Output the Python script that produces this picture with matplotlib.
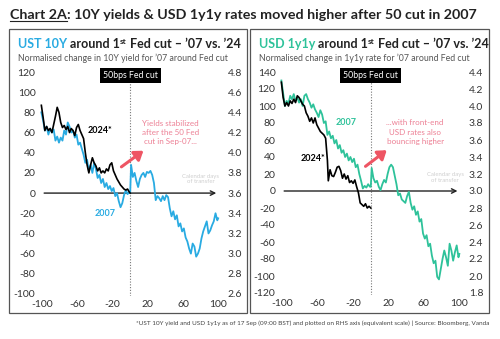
import numpy as np
import matplotlib.pyplot as plt
from matplotlib.patches import Rectangle
from matplotlib.lines import Line2D

plt.rcParams['font.family'] = ['Lato', 'DejaVu Sans']
plt.rcParams['axes.unicode_minus'] = False

CYAN = '#29abe2'
GREEN = '#2ec29a'
PINK = '#e8607a'

# ---- UST 10Y, normalised change (bp) around first cut, 2007
days_10y_07 = [-101, -99, -97, -95, -93, -91, -89, -87, -85, -83, -81, -79, -77, -75, -73, -71,
               -69, -67, -65, -63, -61, -59, -57, -55, -53, -51, -49, -47, -45, -43, -41, -39,
               -37, -35, -33, -31, -29, -27, -25, -23, -21, -19, -17, -15, -13, -11, -9, -7,
               -5, -3, -1, 0, 1, 3, 5, 7, 9, 11, 13, 15, 17, 19, 21, 23, 25, 27, 29, 31, 33,
               35, 37, 39, 41, 43, 45, 47, 49, 51, 53, 55, 57, 59, 61, 63, 65, 67, 69, 71, 73,
               75, 77, 79, 81, 83, 85, 87, 89, 91, 93, 95, 97, 99, 100]
ust10y_07 = [80, 72, 62, 66, 58, 64, 60, 63, 52, 56, 50, 55, 52, 62, 58, 70,
             66, 60, 62, 55, 58, 48, 50, 44, 38, 30, 33, 22, 28, 20, 30, 24,
             15, 18, 10, 14, 6, 10, 4, 7, 2, 5, -3, 0, -8, -14, -10, -2,
             3, -1, 1, 0, 28, 16, 20, 12, 6, 14, 18, 20, 16, 21, 20, 22, 18, 10, -7, -3, -5,
             -8, -3, -7, -2, -4, -15, -23, -18, -26, -22, -33, -30, -38, -35, -44, -48, -55, -60, -50, -53,
             -63, -60, -55, -45, -38, -33, -28, -40, -37, -32, -28, -20, -27, -25]

# ---- UST 10Y level (%) in 2024, RHS
days_10y_24 = [-101, -99, -97, -95, -93, -91, -89, -87, -85, -83, -81, -79, -77, -75, -73, -71,
               -69, -67, -65, -63, -61, -59, -57, -55, -53, -51, -49, -47, -45, -43, -41, -39,
               -37, -35, -33, -31, -29, -27, -25, -23, -21, -19, -17, -15, -13, -11, -9, -7,
               -5, -3, -1, 0]
ust10y_24 = [4.47, 4.35, 4.22, 4.26, 4.22, 4.24, 4.20, 4.28, 4.36, 4.45, 4.40, 4.30, 4.25, 4.27, 4.23, 4.26,
             4.20, 4.24, 4.22, 4.17, 4.25, 4.28, 4.22, 4.18, 4.14, 4.00, 3.88, 3.80, 3.88, 3.95, 3.90, 3.87,
             3.82, 3.85, 3.80, 3.82, 3.80, 3.84, 3.82, 3.88, 3.90, 3.82, 3.78, 3.74, 3.71, 3.68, 3.66, 3.64,
             3.63, 3.64, 3.61, 3.60]

# ---- USD 1y1y, normalised change (bp) around first cut, 2007
days_1y1y_07 = days_10y_07
usd1y1y_07 = [130, 115, 100, 106, 103, 112, 108, 114, 106, 110, 104, 108, 100, 112, 114, 108,
              104, 98, 102, 96, 92, 87, 95, 90, 80, 82, 66, 70, 62, 65, 56, 60,
              50, 54, 45, 48, 40, 44, 36, 40, 34, 38, 28, 31, 20, 12, 3, 6,
              4, 8, 5, 5, 27, 15, 10, 12, 5, 1, 8, 13, 10, 20, 28, 31, 28, 18, 8, -5, -3,
              -10, -12, -14, -6, -1, -14, -22, -18, -28, -24, -36, -33, -50, -56, -52, -65, -62, -76, -85, -82,
              -101, -104, -92, -80, -70, -78, -88, -62, -70, -82, -72, -64, -78, -74]

# ---- USD 1y1y level (%) in 2024, RHS
days_1y1y_24 = [-101, -99, -97, -95, -93, -91, -89, -87, -85, -83, -81, -79, -77, -75, -73, -71,
                -69, -67, -65, -63, -61, -59, -57, -55, -53, -51, -49, -48, -46, -44, -42, -40,
                -38, -36, -34, -32, -30, -28, -26, -24, -22, -20, -18, -16, -14, -12, -10, -8,
                -6, -4, -2, 0]
usd1y1y_24 = [4.28, 4.10, 4.00, 4.04, 4.00, 4.06, 4.03, 4.08, 4.04, 4.12, 4.10, 4.06, 4.02, 4.00, 3.92, 3.88,
              3.82, 3.86, 3.80, 3.86, 3.78, 3.74, 3.70, 3.68, 3.66, 3.62, 3.36, 3.12, 3.25, 3.18, 3.17, 3.22,
              3.28, 3.29, 3.24, 3.15, 3.20, 3.14, 3.18, 3.10, 3.12, 3.09, 3.13, 3.05, 2.98, 2.86, 2.84, 2.82,
              2.85, 2.80, 2.82, 2.80]

x_ticks = [-100, -60, -20, 20, 60, 100]

fig = plt.figure(figsize=(5.0, 3.39), dpi=100)
W, H = 500, 339


def px_axes(x0, y0, x1, y1):
    return fig.add_axes([x0 / W, 1 - y1 / H, (x1 - x0) / W, (y1 - y0) / H])


renderer = fig.canvas.get_renderer()


def rich(x, y, parts, **kw):
    # draw text pieces one after another on the same baseline
    xf = x / W
    for txt, col, extra in parts:
        opts = dict(kw)
        opts.update(extra)
        dy = opts.pop('dy', 0)
        t = fig.text(xf, 1 - (y + dy) / H, txt, color=col, va='baseline', **opts)
        xf += t.get_window_extent(renderer).width / W
    return xf


# headline
t = fig.text(10 / W, 1 - 19 / H, 'Chart 2A', fontsize=10.3, fontweight='bold', color='#222222', va='baseline')
bb = t.get_window_extent(renderer)
fig.add_artist(Line2D([bb.x0 / W, bb.x1 / W], [1 - 21 / H] * 2, color='#222222', lw=0.8))
fig.text(bb.x1 / W, 1 - 19 / H, ': 10Y yields & USD 1y1y rates moved higher after 50 cut in 2007',
         fontsize=10.3, fontweight='bold', color='#222222', va='baseline')

# panel frames
for x0, x1 in [(9, 247), (250, 489)]:
    fig.add_artist(Rectangle((x0 / W, 1 - 313 / H), (x1 - x0) / W, (313 - 29) / H,
                             transform=fig.transFigure, fill=False, ec='#555555', lw=0.9))

panels = [
    dict(name='UST 10Y', col=CYAN, x0=18, sub="Normalised change in 10Y yield for '07 around Fed cut",
         box=(39.6, 70, 220.8, 296), ylim=(-102, 122), yt=np.arange(-100, 121, 20), base=3.6,
         rt=np.arange(2.6, 4.81, 0.2), d07=days_10y_07, v07=ust10y_07, d24=days_10y_24, v24=ust10y_24,
         lab07=(-29, -20), lab24=(-34, 62),
         note="Yields stabilized\nafter the 50 Fed\ncut in Sep-07...", note_xy=(46, 60),
         arr=((-10, 26), (15, 42)), faint_xy=(80, 14)),
    dict(name='USD 1y1y', col=GREEN, x0=259, sub="Normalised change in 1y1y rate for '07 around Fed cut",
         box=(279.6, 70.3, 462, 294.7), ylim=(-122, 142), yt=np.arange(-120, 141, 20), base=3.0,
         rt=np.arange(1.8, 4.41, 0.2), d07=days_1y1y_07, v07=usd1y1y_07, d24=days_1y1y_24, v24=usd1y1y_24,
         lab07=(-28, 81), lab24=(-65, 38),
         note="...with front-end\nUSD rates also\nbouncing higher", note_xy=(50, 69),
         arr=((-6, 29), (18, 48)), faint_xy=(84, 16)),
]

for p in panels:
    # panel heading with coloured instrument name and superscript
    rich(p['x0'], 48, [(p['name'], p['col'], {}),
                       (' around 1', '#222222', {}),
                       ('st', '#222222', dict(fontsize=6, dy=-3.5)),
                       (" Fed cut \u2013 \u201907 vs. \u201924", '#222222', {})],
         fontsize=9, fontweight='bold')
    fig.text(p['x0'] / W, 1 - 61 / H, p['sub'].replace("'", '\u2019'), fontsize=6.3, color='#555555',
             va='baseline')

    ax = px_axes(*p['box'])
    ax.set_xlim(-103, 103)
    ax.set_ylim(*p['ylim'])
    ax.set_xticks(x_ticks)
    ax.set_yticks(p['yt'])
    ax.tick_params(length=0, labelsize=7.5, labelcolor='#333333', pad=3)
    for s in ax.spines.values():
        s.set_visible(False)
    ax.patch.set_alpha(0)

    ax.plot(p['d07'], p['v07'], color=p['col'], lw=1.3, zorder=3)

    ax2 = ax.twinx()
    ax2.set_ylim(p['base'] + p['ylim'][0] / 100, p['base'] + p['ylim'][1] / 100)
    ax2.set_yticks(p['rt'])
    ax2.set_yticklabels(['%.1f' % v for v in p['rt']])
    ax2.tick_params(length=0, labelsize=7.5, labelcolor='#333333', pad=5)
    for s in ax2.spines.values():
        s.set_visible(False)
    ax2.plot(p['d24'], p['v24'], color='black', lw=1.2, zorder=4)

    # zero axis with arrow and the cut marker
    ax.annotate('', xy=(101, 0), xytext=(-101, 0),
                arrowprops=dict(arrowstyle='->', color='#222222', lw=1.0, mutation_scale=8), zorder=2)
    ax.axvline(0, color='#777777', lw=0.8, ls=(0, (1, 1.5)), ymax=0.95, zorder=1)
    ax.text(0, p['ylim'][1] - 0.025 * (p['ylim'][1] - p['ylim'][0]), '50bps Fed cut', ha='center', va='center',
            fontsize=6.3, color='white', bbox=dict(boxstyle='square,pad=0.35', fc='black', ec='none'), zorder=6)

    ax.text(*p['lab07'], '2007', color=p['col'], fontsize=6.5, fontweight='bold', ha='center', va='center')
    ax.text(*p['lab24'], '2024*', color='black', fontsize=6.5, fontweight='bold', ha='center', va='center')
    ax.text(*p['note_xy'], p['note'], color=PINK, fontsize=5.8, ha='center', va='center', linespacing=1.4,
            alpha=0.8)
    ax.annotate('', xy=p['arr'][1], xytext=p['arr'][0],
                arrowprops=dict(arrowstyle='-|>,head_width=0.35,head_length=0.5', color='#ee5564', lw=2.2,
                                shrinkA=0, shrinkB=0), zorder=5)
    ax.text(*p['faint_xy'], 'Calendar days\nof transfer', color='#cfcfcf', fontsize=4.3, ha='center', va='center',
            linespacing=1.2)

fig.text(489 / W, 1 - 325 / H,
         '*UST 10Y yield and USD 1y1y as of 17 Sep (09:00 BST) and plotted on RHS axis (equivalent scale) | '
         'Source: Bloomberg, Vanda', fontsize=4.6, color='#444444', ha='right', va='baseline')

fig.savefig('out.png', dpi=100)
